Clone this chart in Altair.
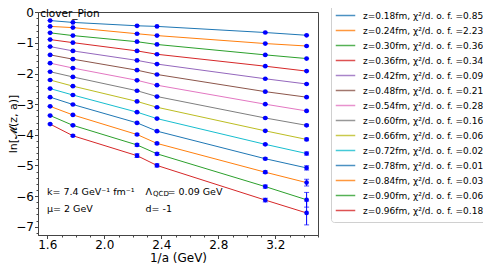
import altair as alt
import pandas as pd

# ---------------- data ----------------
inv_a = [1.62, 1.78, 2.23, 2.37, 3.13, 3.42]
z_vals = ["0.18", "0.24", "0.30", "0.36", "0.42", "0.48", "0.54",
          "0.60", "0.66", "0.72", "0.78", "0.84", "0.90", "0.96"]
chi2 = ["0.85", "2.23", "0.36", "0.34", "0.09", "0.21", "0.28",
        "0.16", "0.06", "0.02", "0.01", "0.03", "0.06", "0.18"]
ln_M = [
    [-0.27, -0.33, -0.44, -0.46, -0.66, -0.75],
    [-0.46, -0.50, -0.70, -0.76, -1.02, -1.10],
    [-0.67, -0.76, -0.96, -1.05, -1.39, -1.51],
    [-0.89, -0.99, -1.26, -1.37, -1.76, -1.92],
    [-1.12, -1.26, -1.57, -1.69, -2.17, -2.34],
    [-1.39, -1.53, -1.89, -2.03, -2.59, -2.77],
    [-1.66, -1.82, -2.22, -2.38, -3.00, -3.22],
    [-1.94, -2.11, -2.56, -2.75, -3.45, -3.69],
    [-2.21, -2.41, -2.91, -3.10, -3.87, -4.15],
    [-2.49, -2.70, -3.26, -3.47, -4.31, -4.61],
    [-2.77, -3.01, -3.61, -3.88, -4.78, -5.08],
    [-3.07, -3.35, -3.99, -4.28, -5.22, -5.56],
    [-3.37, -3.69, -4.33, -4.62, -5.69, -6.12],
    [-3.65, -4.03, -4.68, -5.00, -6.13, -6.55],
]
ln_M_err = [
    [0.005, 0.005, 0.005, 0.005, 0.01, 0.01],
    [0.005, 0.005, 0.005, 0.005, 0.01, 0.01],
    [0.005, 0.005, 0.005, 0.005, 0.01, 0.01],
    [0.005, 0.005, 0.005, 0.005, 0.01, 0.015],
    [0.005, 0.005, 0.005, 0.005, 0.01, 0.015],
    [0.005, 0.005, 0.01, 0.01, 0.015, 0.02],
    [0.005, 0.005, 0.01, 0.01, 0.015, 0.02],
    [0.005, 0.01, 0.01, 0.01, 0.02, 0.03],
    [0.01, 0.01, 0.01, 0.015, 0.02, 0.04],
    [0.01, 0.01, 0.015, 0.015, 0.025, 0.05],
    [0.01, 0.01, 0.02, 0.02, 0.03, 0.07],
    [0.01, 0.015, 0.03, 0.03, 0.04, 0.11],
    [0.015, 0.02, 0.04, 0.04, 0.05, 0.24],
    [0.02, 0.025, 0.06, 0.05, 0.06, 0.39],
]
colors = ["#1f77b4", "#ff7f0e", "#2ca02c", "#d62728", "#9467bd", "#8c564b",
          "#e377c2", "#7f7f7f", "#bcbd22", "#17becf", "#1f77b4", "#ff7f0e",
          "#2ca02c", "#d62728"]

labels = [f"z={z}fm,  \u03c7\u00b2/d. o. f. ={c}" for z, c in zip(z_vals, chi2)]

rows = []
for lab, ys, es in zip(labels, ln_M, ln_M_err):
    for x, y, e in zip(inv_a, ys, es):
        rows.append({"series": lab, "x": x, "y": y, "lo": y - e, "hi": y + e})
df = pd.DataFrame(rows)

notes = pd.DataFrame([
    {"x": 1.55, "y": -0.07, "t": "clover_Pion", "fs": 10.5},
    {"x": 1.598, "y": -5.86, "t": "k= 7.4 GeV\u207b\u00b9 fm\u207b\u00b9", "fs": 9.5},
    {"x": 1.598, "y": -6.43, "t": "\u03bc= 2 GeV", "fs": 9.5},
    {"x": 2.29, "y": -5.86, "t": "\u039b", "fs": 9.5},
    {"x": 2.29, "y": -6.43, "t": "d= -1", "fs": 9.5},
])
notes2 = pd.DataFrame([
    {"x": 2.29, "y": -5.86, "t": "QCD"},
    {"x": 2.29, "y": -5.86, "t": "= 0.09 GeV"},
])

# ---------------- scales / axes ----------------
xmin, xmax = 1.535, 3.50
ymin, ymax = -7.27, 0.01
x_ticks = [round(1.6 + 0.1 * i, 1) for i in range(20)]
y_ticks = [round(-7.2 + 0.2 * i, 1) for i in range(37)]

x_axis = alt.Axis(
    title="1/a (GeV)", values=x_ticks, grid=False,
    labelExpr="round(datum.value*10) % 4 == 0 ? format(datum.value, '.1f') : ''",
    tickSize={"condition": {"test": "round(datum.value*10) % 4 == 0", "value": 3.5}, "value": 2},
    labelFontSize=12, titleFontSize=12, labelPadding=1, titlePadding=2,
    labelFlush=False, labelOverlap=False,
)
y_axis = alt.Axis(
    title="ln[\U0001D4DC(z, a)]", values=y_ticks, grid=False,
    labelExpr="abs(round(datum.value*5) % 5) < 0.5 ? format(datum.value, 'd') : ''",
    tickSize={"condition": {"test": "abs(round(datum.value*5) % 5) < 0.5", "value": 3.5}, "value": 2},
    labelFontSize=12, titleFontSize=11, labelPadding=1,
    titleX=-20, titleY=111.5, labelFlush=False, labelOverlap=False,
)

X = alt.X("x:Q", scale=alt.Scale(domain=[xmin, xmax], nice=False, zero=False), axis=x_axis)
Y = alt.Y("y:Q", scale=alt.Scale(domain=[ymin, ymax], nice=False, zero=False), axis=y_axis)

color = alt.Color(
    "series:N",
    scale=alt.Scale(domain=labels, range=colors),
    sort=labels,
    legend=alt.Legend(
        title=None, orient="none", legendX=293, legendY=-8, direction="vertical",
        symbolType="M-1.3,0H1.3", symbolSize=225, symbolStrokeWidth=1.5,
        symbolFillColor="transparent",
        labelFontSize=9, labelOffset=9, labelLimit=300, padding=4,
        rowPadding=0, clipHeight=15, strokeColor="#d0d0d0", cornerRadius=3,
        fillColor="white", symbolOpacity=0.8, symbolOffset=2,
    ),
)

XA = alt.X("x:Q", axis=x_axis)
base = alt.Chart(df)
lines = base.mark_line(strokeWidth=1).encode(x=X, y=Y, color=color, detail="series:N")
bars = base.mark_rule(color="#0000ff", strokeWidth=1).encode(
    x=XA, y=alt.Y("lo:Q", axis=y_axis), y2="hi:Q")
caps = base.transform_fold(["lo", "hi"], as_=["k", "v"]).mark_tick(
    color="#0000ff", orient="horizontal", size=5, thickness=1
).encode(x=XA, y=alt.Y("v:Q", axis=y_axis))
pts = base.mark_circle(color="#0000ff", size=22, opacity=1).encode(
    x=XA, y=alt.Y("y:Q", axis=y_axis))

txt = alt.Chart(notes).mark_text(align="left", baseline="middle", color="black").encode(
    x=XA, y=alt.Y("y:Q", axis=y_axis), text="t:N",
    size=alt.Size("fs:Q", scale=None, legend=None)
)
txt2a = alt.Chart(notes2.iloc[[0]]).mark_text(
    align="left", baseline="middle", color="black", dx=7.5, dy=2.5, fontSize=7
).encode(x=XA, y=alt.Y("y:Q", axis=y_axis), text="t:N")
txt2b = alt.Chart(notes2.iloc[[1]]).mark_text(
    align="left", baseline="middle", color="black", dx=22, fontSize=9.5
).encode(x=XA, y=alt.Y("y:Q", axis=y_axis), text="t:N")

chart = alt.layer(lines, bars, caps, pts, txt, txt2a, txt2b).properties(
    width=280, height=223,
    autosize=alt.AutoSizeParams(type="none"),
    padding={"left": 30, "top": 4, "right": 165, "bottom": 32},
).configure(font="DejaVu Sans").configure_view(
    stroke="#444444", strokeWidth=1
).configure_axis(
    domainColor="#444444", tickColor="#444444", labelColor="black", titleColor="black",
    labelFont="DejaVu Sans", titleFont="DejaVu Sans", titleFontWeight="normal",
    labelOverlap=False,
).configure_legend(labelFont="DejaVu Sans", labelColor="black")

chart.save("out.html", embed_options={"renderer": "svg", "actions": False})
